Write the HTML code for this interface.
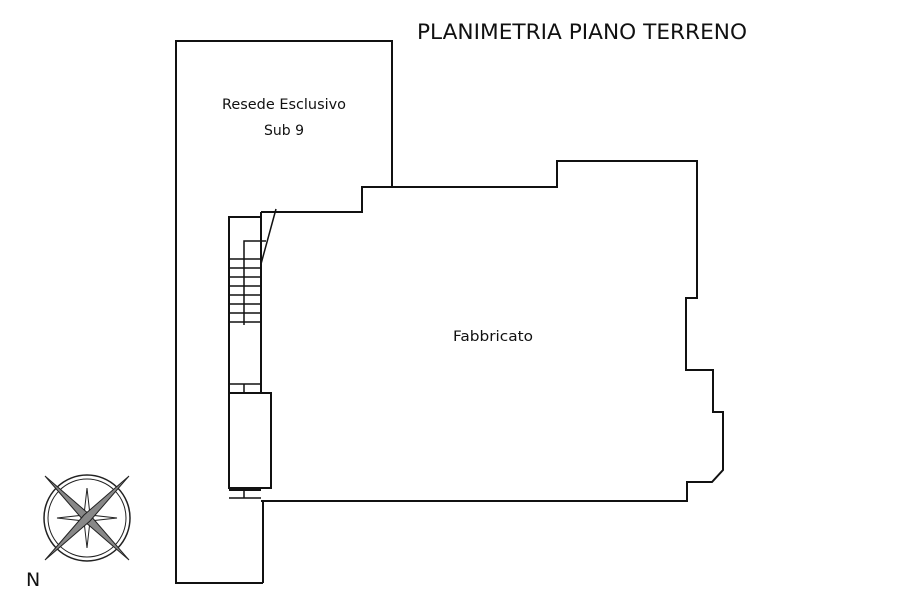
<!DOCTYPE html><html><head><style>body{margin:0;background:#fff}svg{display:block}text{font-family:"DejaVu Sans","Liberation Sans",sans-serif;fill:#111}</style></head><body>
<svg width="900" height="600" viewBox="0 0 900 600">
<g fill="none" stroke="#111" stroke-width="2">
<polyline points="263,583 176,583 176,41 392,41 392,187"/>
<polyline points="263,500 263,583"/>
<polyline points="261,212 362,212 362,187 557,187 557,161 697,161 697,298 686,298 686,370 713,370 713,412 723,412 723,470 712,482 687,482 687,501 261,501"/>
<polyline points="261,212 261,393"/>
<rect x="229" y="217" width="32" height="176"/>
<rect x="229" y="393" width="42" height="95"/>
<line x1="229" y1="490" x2="261" y2="490"/>
<line x1="276" y1="209" x2="261" y2="264" stroke-width="1.5"/>
<polyline points="244,325 244,241 266,241" stroke-width="1.5"/>
<g stroke-width="1.5"><line x1="229" y1="259" x2="261" y2="259"/><line x1="229" y1="268" x2="261" y2="268"/><line x1="229" y1="277" x2="261" y2="277"/><line x1="229" y1="286" x2="261" y2="286"/><line x1="229" y1="295" x2="261" y2="295"/><line x1="229" y1="304" x2="261" y2="304"/><line x1="229" y1="313" x2="261" y2="313"/><line x1="229" y1="322" x2="261" y2="322"/>
<line x1="229" y1="384" x2="261" y2="384"/><line x1="244" y1="384" x2="244" y2="393"/><line x1="244" y1="490" x2="244" y2="498"/><line x1="229" y1="498" x2="261" y2="498"/></g>
</g>
<g transform="translate(87,518)" stroke="#222">
<circle r="43" fill="none" stroke-width="1.5"/><circle r="39" fill="none" stroke-width="1"/>
<polygon points="0,-30 3,-3 30,0 3,3 0,30 -3,3 -30,0 -3,-3" fill="#fff" stroke-width="1"/>
<polygon points="-42,-42 3,-3 42,42 -3,3" fill="#888" stroke-width="1"/>
<polygon points="42,-42 3,3 -42,42 -3,-3" fill="#888" stroke-width="1"/>
</g>
<text x="26" y="586" font-size="19">N</text>
<text x="417" y="39" font-size="21" textLength="330" lengthAdjust="spacingAndGlyphs">PLANIMETRIA PIANO TERRENO</text>
<text x="222" y="109" font-size="14" textLength="124" lengthAdjust="spacingAndGlyphs">Resede Esclusivo</text>
<text x="284" y="135" font-size="14" text-anchor="middle">Sub 9</text>
<text x="453" y="341" font-size="14" textLength="80" lengthAdjust="spacingAndGlyphs">Fabbricato</text>
</svg></body></html>
